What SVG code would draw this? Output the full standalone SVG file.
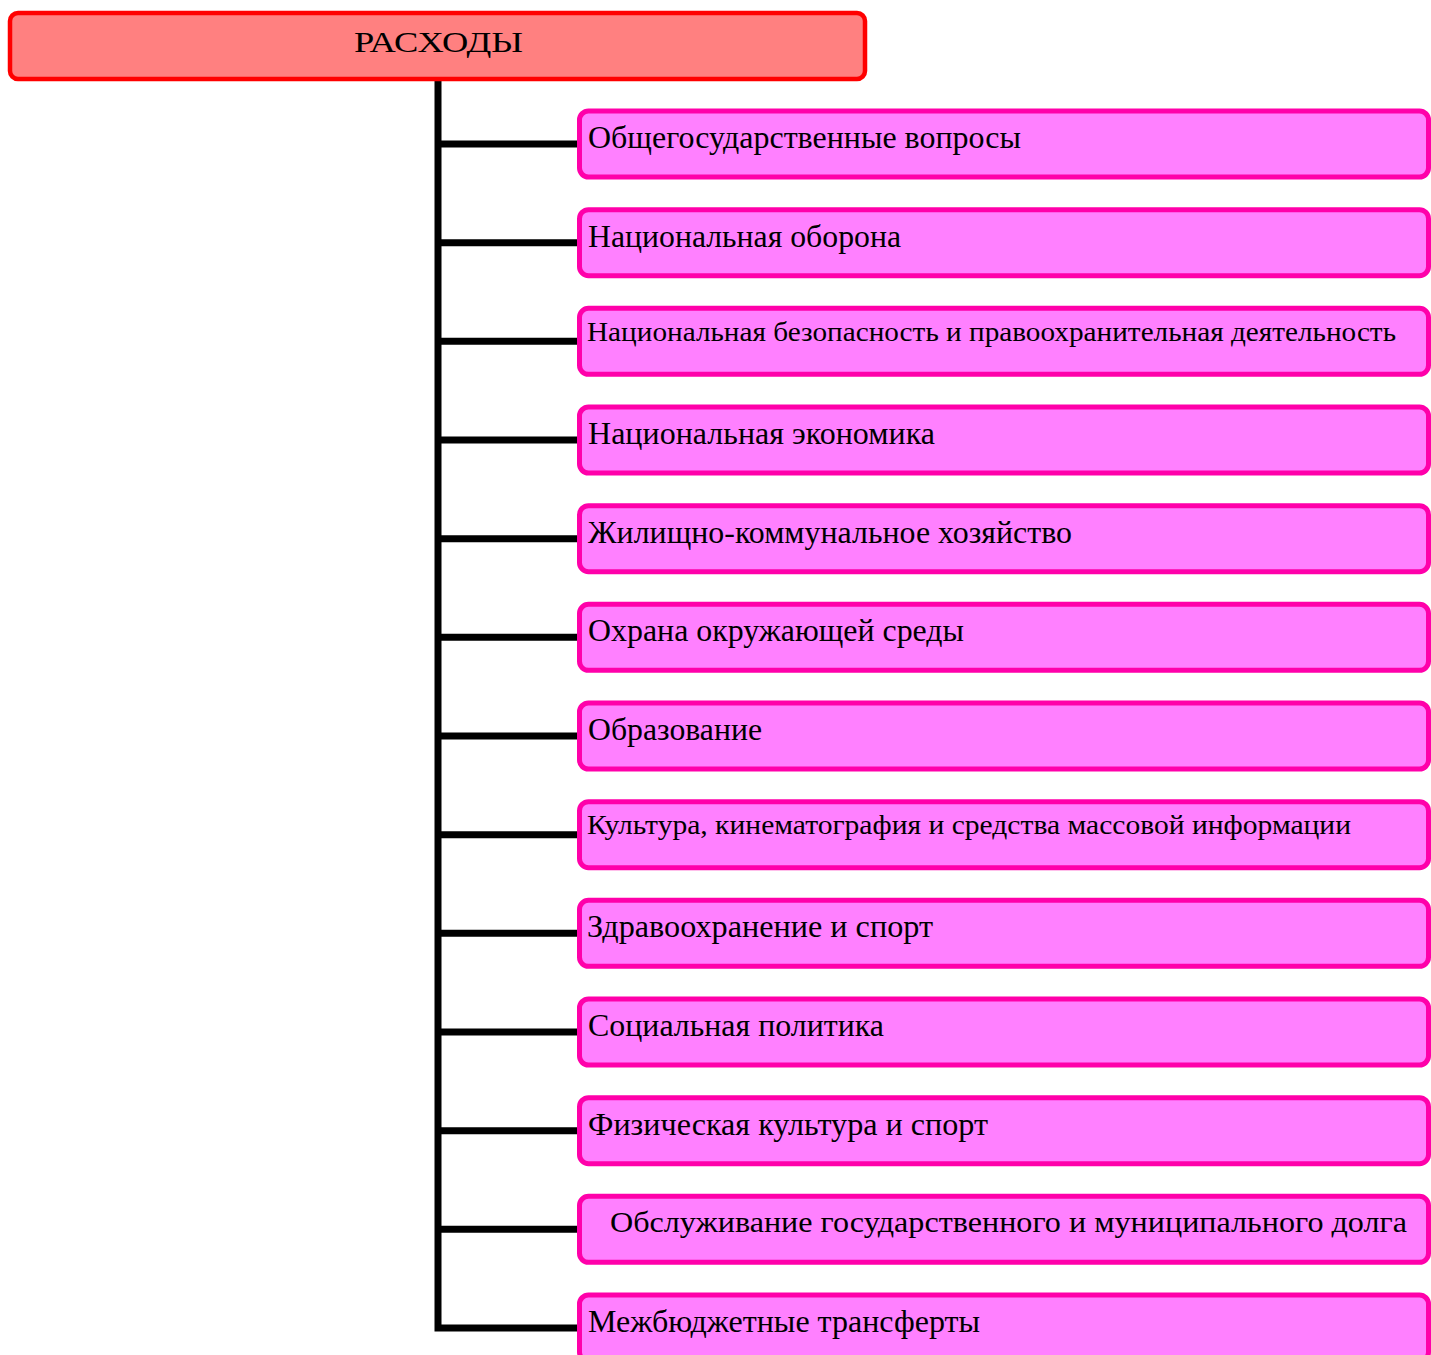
<svg xmlns="http://www.w3.org/2000/svg" width="1431" height="1355" viewBox="0 0 1431 1355">
<style>
.root{fill:#FF8080;stroke:#FF0000;stroke-width:4.5}
.box{fill:#FF80FF;stroke:#FF00AA;stroke-width:5}
.t{font-family:"Liberation Serif","Times New Roman",serif;font-size:31px;fill:#000}
.s{font-size:27px}
.m{font-size:29px}
.c{fill:none;stroke:#000;stroke-width:7}
</style>
<rect width="1431" height="1355" fill="#fff"/>
<g id="connectors">
<path class="c" d="M438 80 V1328 H579"/>
<path class="c" d="M438 144 H579 M438 242.7 H579 M438 341.3 H579 M438 440 H579 M438 538.7 H579 M438 637.3 H579 M438 736 H579 M438 834.7 H579 M438 933.3 H579 M438 1032 H579 M438 1130.7 H579 M438 1229.3 H579"/>
</g>
<g id="root">
<rect class="root" x="10" y="13" width="855" height="66" rx="8"/>
<text class="t" x="438.5" y="52" text-anchor="middle" textLength="169" lengthAdjust="spacingAndGlyphs" style="font-size:30px">РАСХОДЫ</text>
</g>
<g id="n1"><rect class="box" x="579.5" y="111" width="849" height="66" rx="9"/><text class="t" x="588" y="148" textLength="433" lengthAdjust="spacingAndGlyphs">Общегосударственные вопросы</text></g>
<g id="n2"><rect class="box" x="579.5" y="209.7" width="849" height="66" rx="9"/><text class="t" x="588" y="246.7" textLength="313" lengthAdjust="spacingAndGlyphs">Национальная оборона</text></g>
<g id="n3"><rect class="box" x="579.5" y="308.3" width="849" height="66" rx="9"/><text class="t s" x="587" y="340.8" textLength="809" lengthAdjust="spacingAndGlyphs">Национальная безопасность и правоохранительная деятельность</text></g>
<g id="n4"><rect class="box" x="579.5" y="407" width="849" height="66" rx="9"/><text class="t" x="588" y="444" textLength="347" lengthAdjust="spacingAndGlyphs">Национальная экономика</text></g>
<g id="n5"><rect class="box" x="579.5" y="505.7" width="849" height="66" rx="9"/><text class="t" x="588" y="542.7" textLength="484" lengthAdjust="spacingAndGlyphs">Жилищно-коммунальное хозяйство</text></g>
<g id="n6"><rect class="box" x="579.5" y="604.3" width="849" height="66" rx="9"/><text class="t" x="588" y="641.3" textLength="376" lengthAdjust="spacingAndGlyphs">Охрана окружающей среды</text></g>
<g id="n7"><rect class="box" x="579.5" y="703" width="849" height="66" rx="9"/><text class="t" x="588" y="740" textLength="174" lengthAdjust="spacingAndGlyphs">Образование</text></g>
<g id="n8"><rect class="box" x="579.5" y="801.7" width="849" height="66" rx="9"/><text class="t s" x="587" y="834.2" textLength="764" lengthAdjust="spacingAndGlyphs">Культура, кинематография и средства массовой информации</text></g>
<g id="n9"><rect class="box" x="579.5" y="900.3" width="849" height="66" rx="9"/><text class="t" x="587" y="937.3" textLength="346" lengthAdjust="spacingAndGlyphs">Здравоохранение и спорт</text></g>
<g id="n10"><rect class="box" x="579.5" y="999" width="849" height="66" rx="9"/><text class="t" x="588" y="1036" textLength="296" lengthAdjust="spacingAndGlyphs">Социальная политика</text></g>
<g id="n11"><rect class="box" x="579.5" y="1097.7" width="849" height="66" rx="9"/><text class="t" x="588" y="1134.7" textLength="400" lengthAdjust="spacingAndGlyphs">Физическая культура и спорт</text></g>
<g id="n12"><rect class="box" x="579.5" y="1196.3" width="849" height="66" rx="9"/><text class="t m" x="610" y="1232.3" textLength="797" lengthAdjust="spacingAndGlyphs">Обслуживание государственного и муниципального долга</text></g>
<g id="n13"><rect class="box" x="579.5" y="1295" width="849" height="66" rx="9"/><text class="t" x="588" y="1332" textLength="392" lengthAdjust="spacingAndGlyphs">Межбюджетные трансферты</text></g>
</svg>
